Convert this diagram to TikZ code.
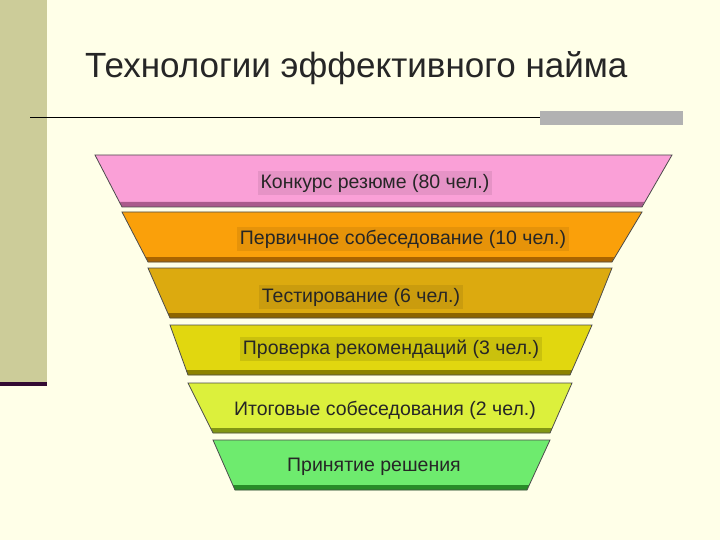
\documentclass[tikz,border=0pt]{standalone}
\usepackage{fontspec}
\setmainfont{Liberation Sans}
\usetikzlibrary{calc}
\begin{document}
\begin{tikzpicture}[x=1pt,y=-1pt,
  lab/.style={inner sep=3pt,font=\fontsize{19.5}{22}\selectfont,text=black!85},
  tier/.style={draw=black!70,line width=0.8pt}]
\fill[fill={rgb,255:red,255;green,255;blue,232}] (0,0) rectangle (720,540);
\useasboundingbox (0,0) rectangle (720,540);
\fill[fill={rgb,255:red,204;green,204;blue,153}] (0,0) rectangle (47,382);
\fill[fill={rgb,255:red,50;green,10;blue,50}] (0,382) rectangle (47,386);
\node[font=\fontsize{35}{40}\selectfont,anchor=west,inner sep=0pt,text=black!85] (title) at (85,68) {Технологии эффективного найма};
\draw[line width=1pt] (30,118) -- (683,118);
\fill[gray!60] (540,111) rectangle (683,125);
\def\tierdraw#1#2#3#4#5#6#7#8{%
  \fill[#7] (#1,#5) -- (#2,#5) -- (#4,#6) -- (#3,#6) -- cycle;
  \fill[#8] ($(#3,#6)+(-2,-5)$) -- ($(#4,#6)+(2,-5)$) -- (#4,#6) -- (#3,#6) -- cycle;
  \draw[tier] (#1,#5) -- (#2,#5) -- (#4,#6) -- (#3,#6) -- cycle;
}
\definecolor{c1}{RGB}{250,160,215}\definecolor{d1}{RGB}{170,90,140}
\definecolor{c2}{RGB}{250,160,10}\definecolor{d2}{RGB}{170,100,0}
\definecolor{c3}{RGB}{220,170,15}\definecolor{d3}{RGB}{140,100,0}
\definecolor{c4}{RGB}{225,215,15}\definecolor{d4}{RGB}{140,130,0}
\definecolor{c5}{RGB}{220,240,60}\definecolor{d5}{RGB}{130,150,20}
\definecolor{c6}{RGB}{110,235,110}\definecolor{d6}{RGB}{40,140,40}
\tierdraw{95}{672}{122}{642}{155}{207}{c1}{d1}
\tierdraw{122}{642}{148}{612}{212}{262}{c2}{d2}
\tierdraw{148}{612}{170}{592}{268}{318}{c3}{d3}
\tierdraw{170}{592}{188}{570}{325}{375}{c4}{d4}
\tierdraw{188}{572}{213}{550}{383}{433}{c5}{d5}
\tierdraw{213}{550}{235}{527}{440}{490}{c6}{d6}
\node[lab,fill=c1!92!black] (t1) at (375,183) {Конкурс резюме (80 чел.)};
\node[lab,fill=c2!92!black] (t2) at (403,239) {Первичное собеседование (10 чел.)};
\node[lab,fill=c3!92!black] (t3) at (361,297) {Тестирование (6 чел.)};
\node[lab,fill=c4!90!black] (t4) at (391,349) {Проверка рекомендаций (3 чел.)};
\node[lab] (t5) at (385,410) {Итоговые собеседования (2 чел.)};
\node[lab] (t6) at (374,467) {Принятие решения};
\end{tikzpicture}
\end{document}
